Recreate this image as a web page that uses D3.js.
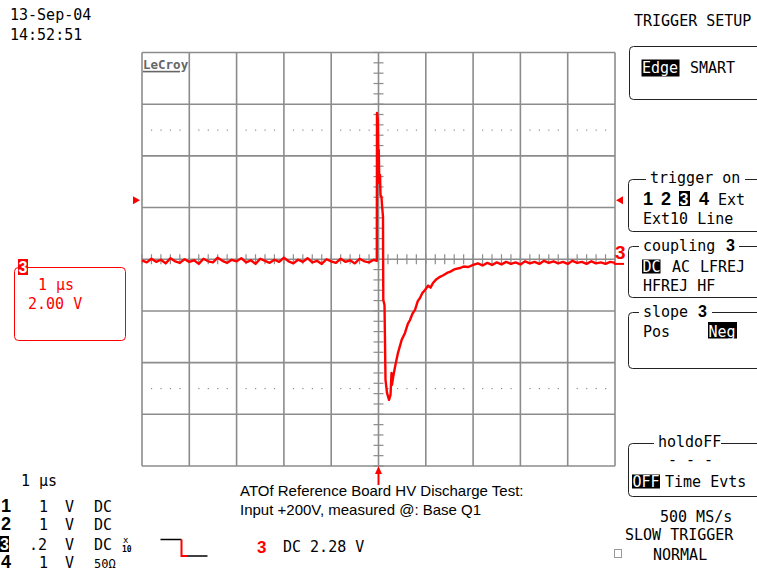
<!DOCTYPE html>
<html lang="en">
<head>
<meta charset="UTF-8">
<title>LeCroy trace</title>
<script src="https://cdn.jsdelivr.net/npm/d3@7"></script>
<style>
	body{margin:0;background:#fff;}
	svg{display:block;}
	.mono{font-family:"DejaVu Sans Mono",monospace;font-size:15px;fill:#000;}
	.big{font-family:"Liberation Sans",Arial,sans-serif;font-weight:bold;font-size:18px;fill:#000;}
	.cap{font-family:"Liberation Sans",Arial,sans-serif;font-size:15px;fill:#000;}
	.grid{stroke:#8c8c8c;stroke-width:1.6;fill:none;}
	.box{stroke:#222;stroke-width:1;fill:none;}
	.red{fill:#f00;}
</style>
</head>
<body>
<svg width="757" height="574"></svg>
<script>
// time axis (us), 1 us/div
var timeTicks = [-5,-4,-3,-2,-1,0,1,2,3,4,5];
// volts, 2 V/div
var voltTicks = [-8,-6,-4,-2,0,2,4,6,8];
var dottedLevels = [-5,5];
var triggerLevel = 2.28;
var groundLevel = -0.18;

// channel 3 trace [us, V]
var trace = [
	[-5.0,-0.04],[-4.9,-0.12],[-4.8,0.02],[-4.7,-0.10],[-4.6,-0.02],[-4.5,-0.16],[-4.4,0.04],[-4.3,-0.08],[-4.2,-0.14],[-4.1,0.00],
	[-4.0,-0.10],[-3.9,-0.04],[-3.8,-0.18],[-3.7,0.02],[-3.6,-0.08],[-3.5,-0.12],[-3.4,0.06],[-3.3,-0.06],[-3.2,-0.14],[-3.1,-0.02],
	[-3.0,-0.08],[-2.9,0.04],[-2.8,-0.12],[-2.7,-0.04],[-2.6,-0.18],[-2.5,0.02],[-2.4,-0.06],[-2.3,-0.14],[-2.2,-0.02],[-2.1,-0.10],
	[-2.0,0.06],[-1.9,-0.08],[-1.8,-0.16],[-1.7,-0.02],[-1.6,-0.10],[-1.5,0.04],[-1.4,-0.12],[-1.3,-0.06],[-1.2,-0.18],[-1.1,0.00],
	[-1.0,-0.08],[-0.9,-0.14],[-0.8,0.02],[-0.7,-0.10],[-0.6,-0.04],[-0.5,-0.16],[-0.4,0.02],[-0.3,-0.08],[-0.2,-0.12],[-0.1,-0.02],
	[-0.036,-0.06],[-0.032,5.66],[-0.015,5.39],[-0.004,3.65],[0.006,4.23],[0.017,2.95],[0.032,3.26],[0.042,2.49],[0.063,2.41],
	[0.074,2.10],[0.095,1.64],[0.101,-1.57],[0.127,-1.77],[0.137,-3.12],[0.148,-4.67],[0.18,-5.17],[0.222,-5.44],[0.254,-5.25],
	[0.275,-4.40],[0.285,-4.86],[0.307,-4.59],[0.349,-4.17],[0.412,-3.62],[0.49,-3.12],[0.56,-2.85],[0.62,-2.50],[0.666,-2.35],
	[0.72,-2.10],[0.772,-1.96],[0.83,-1.62],[0.877,-1.50],[0.93,-1.30],[0.983,-1.19],[1.05,-1.02],[1.10,-1.10],[1.152,-0.92],
	[1.22,-0.78],[1.30,-0.68],[1.37,-0.62],[1.448,-0.53],[1.52,-0.48],[1.617,-0.38],[1.723,-0.34],[1.8,-0.28],[1.9,-0.30],[2.0,-0.22],
	[2.1,-0.16],[2.2,-0.24],[2.3,-0.14],[2.4,-0.22],[2.5,-0.12],[2.6,-0.20],[2.7,-0.10],[2.8,-0.18],[2.9,-0.12],[3.0,-0.20],
	[3.1,-0.08],[3.2,-0.16],[3.3,-0.10],[3.4,-0.18],[3.5,-0.06],[3.6,-0.14],[3.7,-0.08],[3.8,-0.16],[3.9,-0.10],[4.0,-0.18],
	[4.1,-0.06],[4.2,-0.14],[4.3,-0.10],[4.4,-0.18],[4.5,-0.08],[4.6,-0.16],[4.7,-0.12],[4.8,-0.18],[4.9,-0.10],[5.0,-0.14]
];

var svg = d3.select("svg");
var x = d3.scaleLinear().domain([-5,5]).range([142,615]);
var y = d3.scaleLinear().domain([-8,8]).range([466,52.5]);

// grid
var g = svg.append("g");
g.selectAll(".vl").data(timeTicks).enter().append("line")
	.attr("class","grid")
	.attr("x1",d=>x(d)).attr("x2",d=>x(d))
	.attr("y1",y(8)).attr("y2",y(-8));
g.selectAll(".hl").data(voltTicks).enter().append("line")
	.attr("class","grid")
	.attr("y1",d=>y(d)).attr("y2",d=>y(d))
	.attr("x1",x(-5)).attr("x2",x(5));

// dotted rows
dottedLevels.forEach(function(lv){
	var pts = [];
	timeTicks.slice(0,-1).forEach(function(t){
		[0.2,0.4,0.6,0.8].forEach(f=>pts.push(t+f));
	});
	g.selectAll(null).data(pts).enter().append("rect")
		.attr("x",d=>x(d)-0.5).attr("y",y(lv)-0.5)
		.attr("width",1.2).attr("height",1.2).attr("fill","#8c8c8c");
});

// center axis minor ticks
var tMinor = d3.range(-5,5.001,0.2);
var vMinor = d3.range(-8,8.001,0.4);
g.selectAll(null).data(tMinor).enter().append("line")
	.attr("class","grid").style("stroke-width",1.2)
	.attr("x1",d=>x(d)).attr("x2",d=>x(d))
	.attr("y1",y(0)-5).attr("y2",y(0)+5);
g.selectAll(null).data(vMinor).enter().append("line")
	.attr("class","grid").style("stroke-width",1.2)
	.attr("y1",d=>y(d)).attr("y2",d=>y(d))
	.attr("x1",x(0)-5).attr("x2",x(0)+5);

// LeCroy logo
svg.append("text").attr("x",143).attr("y",69)
	.style("font-family","DejaVu Sans Mono").style("font-weight","bold")
	.style("font-size","12.5px").style("fill","#666").text("LeCroy");
svg.append("rect").attr("x",143).attr("y",70.8).attr("width",37).attr("height",1.6).attr("fill","#666");

// trace
var line = d3.line().x(d=>x(d[0])).y(d=>y(d[1]));
svg.append("path").datum(trace)
	.attr("d",line)
	.attr("fill","none").attr("stroke","#f00")
	.attr("stroke-width",2.4).attr("stroke-linejoin","round");

// trigger level markers
var ty = y(triggerLevel);
svg.append("path").attr("class","red")
	.attr("d","M133,"+(ty-4)+"L140,"+ty+"L133,"+(ty+4)+"Z");
svg.append("path").attr("class","red")
	.attr("d","M623,"+(ty-4)+"L616,"+ty+"L623,"+(ty+4)+"Z");

// ground marker
svg.append("text").attr("x",615).attr("y",259).attr("class","big")
	.style("fill","#f00").style("font-size","19px").text("3");
svg.append("line").attr("x1",614).attr("x2",624)
	.attr("y1",y(groundLevel)).attr("y2",y(groundLevel))
	.attr("stroke","#f00").attr("stroke-width",2);

// trigger time arrow
var tx = x(0);
svg.append("line").attr("x1",tx).attr("x2",tx).attr("y1",472).attr("y2",485)
	.attr("stroke","#f00").attr("stroke-width",2);
svg.append("path").attr("class","red")
	.attr("d","M"+(tx-3.5)+",474L"+tx+",466L"+(tx+3.5)+",474Z");

// helpers
function txt(xp,yp,s,cls){
	return svg.append("text").attr("x",xp).attr("y",yp).attr("class",cls||"mono").text(s);
}
function inv(xp,yp,w,h,s,tx_,ty_,cls,bg){
	svg.append("rect").attr("x",xp).attr("y",yp).attr("width",w).attr("height",h).attr("fill",bg||"#000");
	txt(tx_,ty_,s,cls).style("fill","#fff");
}
function panel(x0,y0,y1,title,tx0,tw){
	svg.append("rect").attr("class","box").attr("x",x0).attr("y",y0)
		.attr("width",780-x0).attr("height",y1-y0).attr("rx",4);
	if(title){
		svg.append("rect").attr("x",tx0-2).attr("y",y0-3).attr("width",tw+4).attr("height",6).attr("fill","#fff");
	}
}

// header
txt(10,20,"13-Sep-04");
txt(10,40,"14:52:51");
txt(634,26,"TRIGGER SETUP");

// Edge/SMART panel
panel(629.5,46.5,99.5);
inv(641.5,59.5,38,17,"Edge",642,73);
txt(690,73,"SMART");

// trigger on
panel(628.5,179.5,231.5,true,648,95);
txt(650,183,"trigger on");
txt(643,205,"1","big");
txt(661,205,"2","big");
svg.append("rect").attr("x",679).attr("y",191).attr("width",11).attr("height",15).attr("fill","#000");
txt(679.5,205,"3","big").style("fill","#fff").style("font-size","16px");
txt(699,205,"4","big");
txt(718,205,"Ext");
txt(643,224,"Ext10 Line");

// coupling
panel(628.5,246.5,297.5,true,641,96);
txt(643,251,"coupling");
txt(726,251,"3","big").style("font-size","16px");
inv(642,259.5,18.5,14,"DC",642.5,271.7);
txt(672,271.7,"AC");
txt(700,271.7,"LFREJ");
txt(643,290.7,"HFREJ HF");

// slope
panel(628.5,312.5,368.5,true,641,69);
txt(643,317,"slope");
txt(698,317,"3","big").style("font-size","16px");
txt(643,336.7,"Pos");
inv(708,322,29,16.5,"Neg",708.5,336.7);

// holdoff
panel(628.5,443.5,496.5,true,656,63);
txt(658,447,"holdoFF");
txt(668,465,"- - -");
inv(632,474.5,28,14,"OFF",632.5,486.5);
txt(665,486.5,"Time Evts");

// acquisition status
txt(660,522,"500 MS/s");
txt(625,540,"SLOW TRIGGER");
svg.append("rect").attr("x",614.5).attr("y",549.5).attr("width",7).attr("height",8)
	.attr("fill","none").attr("stroke","#999");
txt(653,560,"NORMAL");

// channel 3 box (left)
svg.append("rect").attr("x",14.5).attr("y",267.5).attr("width",111).attr("height",73).attr("rx",4)
	.attr("fill","none").attr("stroke","#f00");
svg.append("rect").attr("x",18).attr("y",259).attr("width",10).attr("height",16).attr("fill","#f00");
txt(18.5,273,"3","big").style("fill","#fff").style("font-size","16px");
txt(38,290,"1 \u00b5s").style("fill","#f00");
txt(28,309,"2.00 V").style("fill","#f00");

// bottom-left channel table
txt(21,486,"1 \u00b5s");
var rowsY = [511.7,530,550,568];
txt(1,rowsY[0],"1","big");
txt(1,rowsY[1],"2","big");
svg.append("rect").attr("x",0).attr("y",536).attr("width",9).attr("height",16).attr("fill","#000");
txt(0,rowsY[2],"3","big").style("fill","#fff").style("font-size","16px");
txt(1,rowsY[3],"4","big");
txt(39,rowsY[0],"1"); txt(39,rowsY[1],"1"); txt(29,rowsY[2],".2"); txt(39,rowsY[3],"1");
rowsY.forEach(r=>txt(65,r,"V"));
txt(94,rowsY[0],"DC"); txt(94,rowsY[1],"DC"); txt(94,rowsY[2],"DC");
txt(94,rowsY[3],"50\u03a9").style("font-size","12px");
txt(123,543,"x").style("font-size","9px");
txt(122,552,"10").style("font-size","8px").style("font-weight","bold");

// slope icon
svg.append("path").attr("d","M160.5,539.5H181.5").attr("stroke","#000").attr("stroke-width",1.5).attr("fill","none");
svg.append("path").attr("d","M181.5,539.5V556H187").attr("stroke","#f00").attr("stroke-width",2).attr("fill","none");
svg.append("path").attr("d","M187,556H207.5").attr("stroke","#000").attr("stroke-width",1.5).attr("fill","none");

txt(257,553,"3","big").style("fill","#f00").style("font-size","17px");
txt(283,552,"DC 2.28 V");

// caption
txt(240,496,"ATOf Reference Board HV Discharge Test:","cap");
txt(240,515,"Input +200V, measured @: Base Q1","cap");
</script>
</body>
</html>
